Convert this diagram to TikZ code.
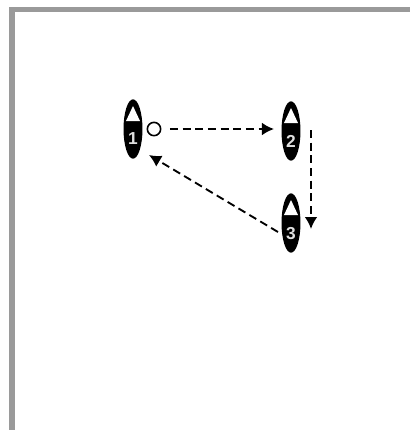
\documentclass[tikz,border=0pt]{standalone}
\usepackage{fontspec}
\setmainfont{Liberation Sans}
\usetikzlibrary{shapes.geometric,arrows.meta}
\definecolor{framegray}{HTML}{9A9A9A}
\tikzset{
  x=0.75pt,y=-0.75pt,
  marker/.style={ellipse,fill=black,draw=none,minimum width=14.2pt,minimum height=44.5pt,inner sep=0pt},
  markernum/.style={text=white!88!black,font=\bfseries\fontsize{13}{14}\selectfont,inner sep=0pt},
  wedge/.style={fill=white,draw=none},
  startring/.style={circle,draw=black,line width=1.2pt,fill=white,minimum size=10pt,inner sep=0pt},
  move/.style={draw=black,line width=1.4pt,dash pattern=on 6pt off 3.5pt,-{Latex[length=9pt,width=9.5pt]}},
  frameline/.style={draw=framegray,line width=4.2pt}
}
\begin{document}
\begin{tikzpicture}
\useasboundingbox (0,0) rectangle (410,430);
\fill[white] (0,0) rectangle (410,430);
\draw[frameline] (12,430) -- (12,9.5) -- (410,9.5);
\node[marker] (m1) at (133,129) {};
\node[marker] (m2) at (291,131) {};
\node[marker] (m3) at (291,223) {};
\foreach \n in {m1,m2,m3}{
  \fill[wedge] ([shift={(0,-23)}]\n.center) -- ([shift={(7,-8)}]\n.center) -- ([shift={(-7,-8)}]\n.center) -- cycle;
}
\node[markernum] (t1) at ([yshift=-7.5]m1.center) {1};
\node[markernum] (t2) at ([yshift=-8]m2.center) {2};
\node[markernum] (t3) at ([yshift=-8]m3.center) {3};
\node[startring] (s) at (154,129) {};
\coordinate (a1) at (170,129);
\coordinate (b1) at (274,129);
\coordinate (a2) at (311,130);
\coordinate (b2) at (311,229);
\coordinate (a3) at (278,232);
\coordinate (b3) at (149,155);
\draw[move] (a1) -- (b1);
\draw[move] (a2) -- (b2);
\draw[move] (a3) -- (b3);
\end{tikzpicture}
\end{document}
